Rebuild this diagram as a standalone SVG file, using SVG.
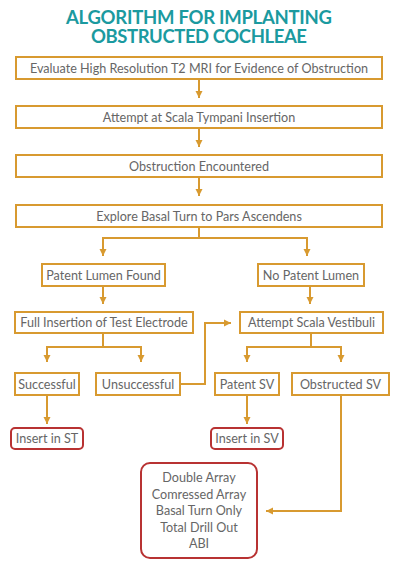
<svg xmlns="http://www.w3.org/2000/svg" width="400" height="569" viewBox="0 0 400 569">
<style>
.t{font-family:"Lato","Open Sans","Liberation Sans",sans-serif;font-size:12.6px;fill:#666;text-anchor:middle}
.title{font-family:"Lato","Open Sans","Liberation Sans",sans-serif;font-weight:700;font-size:18.5px;fill:#1b9a9f;text-anchor:middle}
.b{fill:#fff;stroke:#d89a30;stroke-width:2}
.r{fill:#fff;stroke:#b83232;stroke-width:2}
.c{fill:none;stroke:#d89a30;stroke-width:2}
</style>
<defs>
<marker id="ah" markerUnits="userSpaceOnUse" markerWidth="8" markerHeight="8" viewBox="0 0 8 8" refX="7" refY="4" orient="auto">
<path d="M0,0.5 L7,4 L0,7.5 Z" fill="#d89a30"/>
</marker>
</defs>
<rect width="400" height="569" fill="#fff"/>
<g id="title">
<text class="title" x="199" y="24" textLength="266">ALGORITHM FOR IMPLANTING</text>
<text class="title" x="199" y="43" textLength="216">OBSTRUCTED COCHLEAE</text>
</g>
<g id="connectors">
<line class="c" x1="199" y1="79" x2="199" y2="98" marker-end="url(#ah)"/>
<line class="c" x1="199" y1="128" x2="199" y2="147" marker-end="url(#ah)"/>
<line class="c" x1="199" y1="177" x2="199" y2="196" marker-end="url(#ah)"/>
<polyline class="c" points="199,227 199,238 103,238 103,256" marker-end="url(#ah)"/>
<polyline class="c" points="199,238 307,238 307,256" marker-end="url(#ah)"/>
<line class="c" x1="103" y1="286" x2="103" y2="304" marker-end="url(#ah)"/>
<line class="c" x1="310" y1="286" x2="310" y2="304" marker-end="url(#ah)"/>
<polyline class="c" points="103,333 103,347 47,347 47,362" marker-end="url(#ah)"/>
<polyline class="c" points="103,347 141,347 141,362" marker-end="url(#ah)"/>
<polyline class="c" points="181,384 205,384 205,323 231,323" marker-end="url(#ah)"/>
<polyline class="c" points="311,333 311,347 247,347 247,362" marker-end="url(#ah)"/>
<polyline class="c" points="311,347 341,347 341,362" marker-end="url(#ah)"/>
<line class="c" x1="47" y1="395" x2="47" y2="424" marker-end="url(#ah)"/>
<line class="c" x1="247" y1="395" x2="247" y2="424" marker-end="url(#ah)"/>
<polyline class="c" points="341,395 341,511 266,511" marker-end="url(#ah)"/>
</g>
<g id="n1"><rect class="b" x="16" y="57" width="366" height="22"/><text class="t" x="199" y="72.5">Evaluate High Resolution T2 MRI for Evidence of Obstruction</text></g>
<g id="n2"><rect class="b" x="16" y="106" width="366" height="22"/><text class="t" x="199" y="121.5">Attempt at Scala Tympani Insertion</text></g>
<g id="n3"><rect class="b" x="16" y="155" width="366" height="22"/><text class="t" x="199" y="170.5">Obstruction Encountered</text></g>
<g id="n4"><rect class="b" x="16" y="205" width="366" height="22"/><text class="t" x="199" y="220.5">Explore Basal Turn to Pars Ascendens</text></g>
<g id="n5"><rect class="b" x="42" y="264" width="123" height="22"/><text class="t" x="103.5" y="279.5">Patent Lumen Found</text></g>
<g id="n6"><rect class="b" x="258" y="264" width="106" height="22"/><text class="t" x="311" y="279.5">No Patent Lumen</text></g>
<g id="n7"><rect class="b" x="15" y="312" width="178" height="21"/><text class="t" x="104" y="327">Full Insertion of Test Electrode</text></g>
<g id="n8"><rect class="b" x="240" y="312" width="143" height="21"/><text class="t" x="311.5" y="327">Attempt Scala Vestibuli</text></g>
<g id="n9"><rect class="b" x="15" y="373" width="64" height="22"/><text class="t" x="47" y="388.5">Successful</text></g>
<g id="n10"><rect class="b" x="96" y="373" width="84" height="22"/><text class="t" x="138" y="388.5">Unsuccessful</text></g>
<g id="n11"><rect class="b" x="215" y="373" width="64" height="22"/><text class="t" x="247" y="388.5">Patent SV</text></g>
<g id="n12"><rect class="b" x="292" y="373" width="97" height="22"/><text class="t" x="340.5" y="388.5">Obstructed SV</text></g>
<g id="n13"><rect class="r" x="11" y="428" width="72" height="21" rx="4"/><text class="t" x="47" y="443">Insert in ST</text></g>
<g id="n14"><rect class="r" x="211" y="428" width="72" height="21" rx="4"/><text class="t" x="247" y="443">Insert in SV</text></g>
<g id="n15"><rect class="r" x="141" y="463" width="116" height="95" rx="9"/>
<text class="t" x="199" y="482">Double Array</text>
<text class="t" x="199" y="498.5">Comressed Array</text>
<text class="t" x="199" y="515">Basal Turn Only</text>
<text class="t" x="199" y="531.5">Total Drill Out</text>
<text class="t" x="199" y="548">ABI</text>
</g>
</svg>
